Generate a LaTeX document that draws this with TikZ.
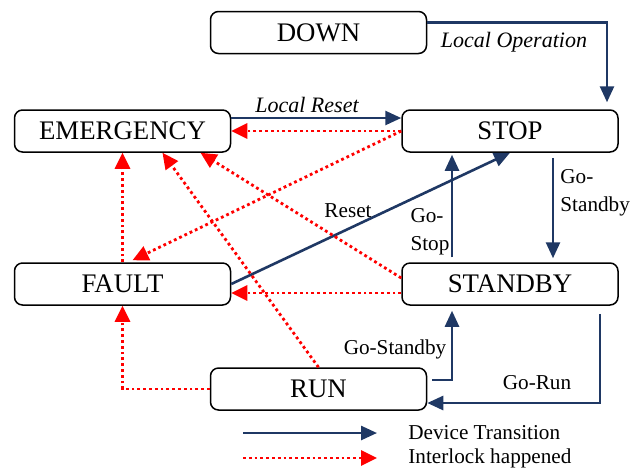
\documentclass[tikz,border=0pt]{standalone}
\usepackage{fontspec}
\setmainfont{Liberation Serif}
\usetikzlibrary{arrows.meta, positioning, calc}
\definecolor{navy}{RGB}{31,56,100}
\definecolor{alarm}{RGB}{255,0,0}

\begin{document}
\begin{tikzpicture}[x=0.5pt, y=-0.5pt, line join=miter,
    state/.style={draw=black, line width=0.75pt, rounded corners=4pt,
      minimum width=108pt, minimum height=21pt, inner sep=0pt,
      font=\fontsize{13.4}{15}\selectfont},
    trans/.style={draw=navy, line width=1.3pt, -{Triangle[length=8pt, width=7pt]}},
    lock/.style={draw=alarm, line width=1.4pt, dash pattern=on 1.4pt off 1.5pt,
      -{Triangle[length=8pt, width=7.5pt]}},
    lbl/.style={font=\fontsize{10.6}{14}\selectfont, inner sep=0pt},
    ilbl/.style={font=\fontsize{11}{13}\selectfont\itshape, inner sep=0pt}]
  \useasboundingbox (0,0) rectangle (642,468);
  % ================= states =================
  \node[state] (down)    at (318.5,32.5) {DOWN};
  \node[state] (emerg)   at (122.5,131)  {EMERGENCY};
  \node[state] (stop)    at (510,131)    {STOP};
  \node[state] (fault)   at (122.5,284)  {FAULT};
  \node[state] (standby) at (510,284)    {STANDBY};
  \node[state] (run)     at (318.5,389)  {RUN};
  % ================= device transitions =================
  \draw[trans] ([yshift=5pt]down.east) -| ($(stop.north)+(97,-7)$);
  \node[ilbl] (lop) at (514,42) {Local Operation};
  \draw[trans] ([yshift=6.5pt]emerg.east) -- ([yshift=6.5pt]stop.west);
  \node[ilbl] (lrs) at (307,105) {Local Reset};
  \draw[trans] (fault.east) -- (stop.south);
  \node[lbl] (rst) at (348,211) {Reset};
  % stop <-> standby
  \draw[trans, shorten <=2.5pt, shorten >=1pt] ($(standby.north)+(-58,0)$) -- ($(stop.south)+(-58,0)$);
  \node[lbl, align=left] (gst) at (430,232) {Go-\\Stop};
  \draw[trans, shorten <=2.5pt, shorten >=2pt] ($(stop.south)+(43,0)$) -- ($(standby.north)+(43,0)$);
  \node[lbl, align=left, anchor=west] (gsb) at (560,193) {Go-\\Standby};
  % run <-> standby
  \draw[trans, shorten <=2.5pt, shorten >=2.5pt] ([yshift=4.5pt]run.east) -| ($(standby.south)+(-58,0)$);
  \node[lbl] (gsb2) at (395,349) {Go-Standby};
  \draw[trans] ($(standby.south)+(90,8)$) |- ([yshift=-7pt]run.east);
  \node[lbl] (grun) at (537,383) {Go-Run};
  % ================= interlocks =================
  \draw[lock] (stop.west) -- (emerg.east);
  \draw[lock] (stop.west) -- ($(fault.north)+(10,-2)$);
  \draw[lock] (fault.north) -- (emerg.south);
  \draw[lock] (run.north) -- ($(emerg.south)+(40,0)$);
  \draw[lock] ([yshift=3pt]standby.west) -- ($(emerg.south)+(78,0)$);
  \draw[lock] ([yshift=-4.5pt]standby.west) -- ([yshift=-4.5pt]fault.east);
  \draw[lock] (run.west) -| (fault.south);
  % ================= legend =================
  \coordinate (legA) at (243,433);
  \node[lbl, anchor=west] (legT) at (408,433) {Device Transition};
  \draw[trans] (legA) -- ([xshift=-15.5pt]legT.west);
  \coordinate (legB) at (243,458);
  \node[lbl, anchor=west] (legL) at (408,458) {Interlock happened};
  \draw[lock] (legB) -- ([xshift=-15.5pt]legL.west);
\end{tikzpicture}
\end{document}
